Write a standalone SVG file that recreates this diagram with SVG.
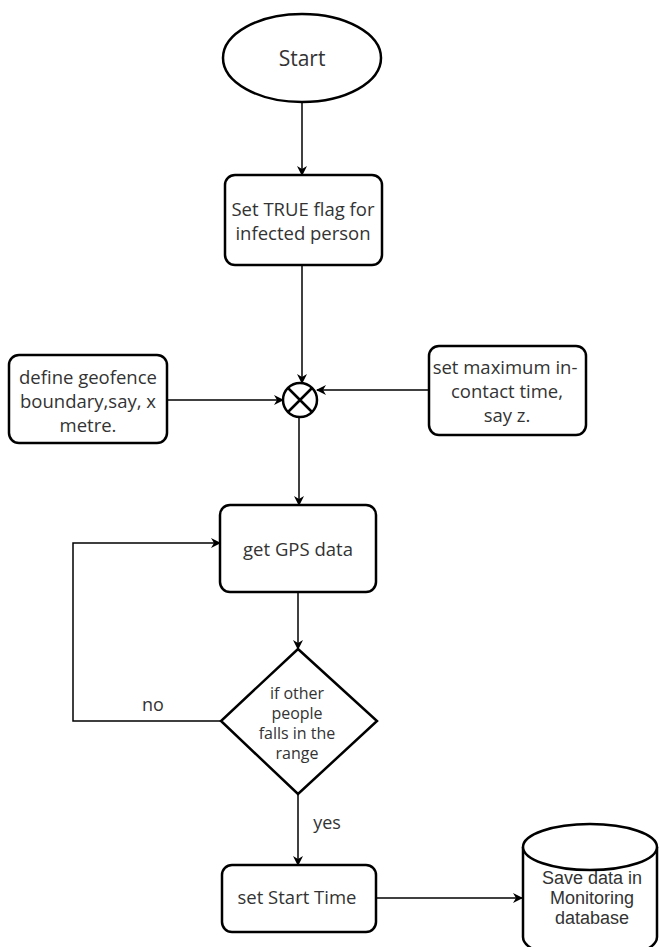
<svg xmlns="http://www.w3.org/2000/svg" width="659" height="947" viewBox="0 0 659 947">
<style>
.shape{fill:#fff;stroke:#000;stroke-width:2.5}
.conn{fill:none;stroke:#000;stroke-width:1.5}
.t{font-family:"Open Sans","Noto Sans",sans-serif;font-size:18.5px;fill:#333;text-anchor:middle}
.d{font-size:16px}
.c{font-family:"Liberation Sans",Arial,sans-serif;font-size:18px;fill:#333;text-anchor:middle}
</style>
<defs>
<marker id="ah" markerWidth="10" markerHeight="10" refX="9" refY="5" orient="auto" markerUnits="userSpaceOnUse">
<path d="M0,0 L10,5 L0,10 L3,5 Z" fill="#000"/>
</marker>
</defs>
<rect width="659" height="947" fill="#fff"/>
<g id="connectors">
<line class="conn" x1="302" y1="102" x2="302" y2="175" marker-end="url(#ah)"/>
<line class="conn" x1="302" y1="265" x2="302" y2="383" marker-end="url(#ah)"/>
<line class="conn" x1="167" y1="400" x2="283" y2="400" marker-end="url(#ah)"/>
<line class="conn" x1="429" y1="390" x2="317" y2="390" marker-end="url(#ah)"/>
<line class="conn" x1="299" y1="417" x2="299" y2="505" marker-end="url(#ah)"/>
<line class="conn" x1="298" y1="592" x2="298" y2="649" marker-end="url(#ah)"/>
<polyline class="conn" points="221,721 73,721 73,543 220,543" marker-end="url(#ah)"/>
<line class="conn" x1="298" y1="794" x2="298" y2="865" marker-end="url(#ah)"/>
<line class="conn" x1="376" y1="898" x2="522" y2="898" marker-end="url(#ah)"/>
<text class="t" x="153" y="711" style="font-size:18px">no</text>
<text class="t" x="327" y="829" style="font-size:18px">yes</text>
</g>
<g id="start">
<ellipse class="shape" cx="302" cy="58" rx="79" ry="44"/>
<text class="t" x="302" y="66" style="font-size:21px">Start</text>
</g>
<g id="set-flag">
<rect class="shape" x="225" y="175" width="157" height="90" rx="10"/>
<text class="t" x="303" y="216">Set TRUE flag for</text>
<text class="t" x="303" y="240">infected person</text>
</g>
<g id="geofence">
<rect class="shape" x="9" y="355" width="158" height="88" rx="10"/>
<text class="t" x="88" y="384">define geofence</text>
<text class="t" x="88" y="408">boundary,say, x</text>
<text class="t" x="88" y="432">metre.</text>
</g>
<g id="junction">
<circle class="shape" cx="300" cy="400" r="17"/>
<path d="M288,388 L312,412 M312,388 L288,412" stroke="#000" stroke-width="2.5"/>
</g>
<g id="max-time">
<rect class="shape" x="429" y="346" width="157" height="89" rx="10"/>
<text class="t" x="505" y="374">set maximum in-</text>
<text class="t" x="507" y="398">contact time,</text>
<text class="t" x="507" y="422">say z.</text>
</g>
<g id="gps">
<rect class="shape" x="220" y="505" width="156" height="87" rx="10"/>
<text class="t" x="298" y="556">get GPS data</text>
</g>
<g id="decision">
<polygon class="shape" points="298,649 377,721 298,794 221,721"/>
<text class="t d" x="297" y="699">if other</text>
<text class="t d" x="297" y="719">people</text>
<text class="t d" x="297" y="739">falls in the</text>
<text class="t d" x="297" y="759">range</text>
</g>
<g id="start-time">
<rect class="shape" x="222" y="865" width="154" height="67" rx="10"/>
<text class="t" x="297" y="904">set Start Time</text>
</g>
<g id="database">
<path class="shape" d="M523,847 L523,937 A67,23 0 0 0 657,937 L657,847"/>
<ellipse class="shape" cx="590" cy="847" rx="67" ry="23"/>
<text class="c" x="592" y="884">Save data in</text>
<text class="c" x="592" y="904">Monitoring</text>
<text class="c" x="592" y="924">database</text>
</g>
</svg>
